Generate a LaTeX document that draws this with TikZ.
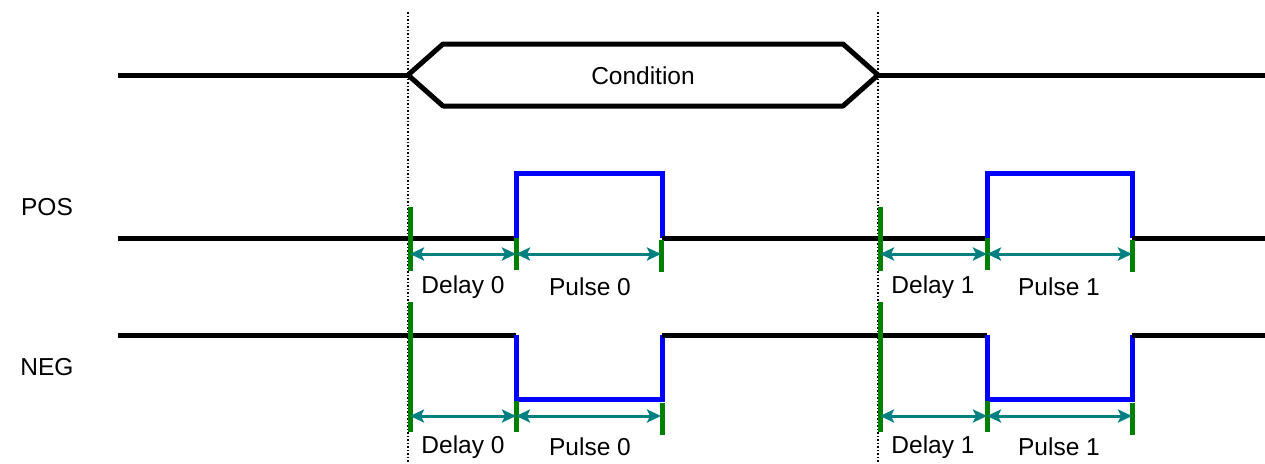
\documentclass[tikz,border=0pt]{standalone}
\usepackage{fontspec}
\setmainfont{Liberation Sans}
\usetikzlibrary{arrows.meta}
\definecolor{tgreen}{RGB}{0,128,0}
\definecolor{tteal}{RGB}{0,128,128}
\begin{document}
\begin{tikzpicture}[x=1pt,y=-1pt,
  sig/.style={line width=5pt, line join=miter},
  hi/.style={line width=5pt, blue, line join=miter},
  gmark/.style={line width=5pt, tgreen},
  span/.style={line width=3pt, tteal, {Stealth[length=14pt,width=13pt,inset=3pt]}-{Stealth[length=14pt,width=13pt,inset=3pt]}},
  lbl/.style={font=\fontsize{24.5}{30}\selectfont, inner sep=0pt},
  guide/.style={line width=1.5pt, dotted}
]
\useasboundingbox (0,0) rectangle (1265,463);
% guides
\draw[guide] (408,12) -- (408,463);
\draw[guide] (878,12) -- (878,463);
% condition
\draw[sig] (118,75) -- (408,75);
\draw[sig, line join=round] (408,75) -- (443,44) -- (843,44) -- (878,75) -- (843,106) -- (443,106) -- cycle;
\draw[sig] (878,75) -- (1265,75);
\node[lbl] (cond) at (643,76) {Condition};
% labels
\node[lbl] (pos) at (47,207) {POS};
\node[lbl] (neg) at (47,367) {NEG};
% POS signal
\draw[sig] (118,238) -- (516,238);
\draw[hi] (516,238) -- (516,173.5) -- (662,173.5) -- (662,238);
\draw[sig] (662,238) -- (987,238);
\draw[hi] (987,238) -- (987,173.5) -- (1132,173.5) -- (1132,238);
\draw[sig] (1132,238) -- (1265,238);
% NEG signal
\draw[sig] (118,335) -- (516,335);
\draw[hi] (516,335) -- (516,399) -- (662,399) -- (662,335);
\draw[sig] (662,335) -- (987,335);
\draw[hi] (987,335) -- (987,399) -- (1132,399) -- (1132,335);
\draw[sig] (1132,335) -- (1265,335);
% POS markers
\coordinate (pa) at (410,254); \coordinate (pb) at (516,254); \coordinate (pc) at (661,254);
\coordinate (pd) at (880,254); \coordinate (pe) at (987,254); \coordinate (pf) at (1132,254);
\draw[gmark] (410,207) -- (410,271);
\draw[gmark] (516,238) -- (516,270);
\draw[gmark] (661,240) -- (661,272);
\draw[gmark] (880,207) -- (880,271);
\draw[gmark] (987,238) -- (987,270);
\draw[gmark] (1132,240) -- (1132,272);
\draw[span] (pa) -- (pb);
\draw[span] (pb) -- (pc);
\draw[span] (pd) -- (pe);
\draw[span] (pe) -- (pf);
\node[lbl] (pd0) at (463,287) {Delay 0};
\node[lbl] (pp0) at (590,287) {Pulse 0};
\node[lbl] (pd1) at (933,287) {Delay 1};
\node[lbl] (pp1) at (1059,287) {Pulse 1};
% NEG markers
\coordinate (na) at (410,416); \coordinate (nb) at (516,416); \coordinate (nc) at (661,416);
\coordinate (nd) at (880,416); \coordinate (ne) at (987,416); \coordinate (nf) at (1132,416);
\draw[gmark] (410,302) -- (410,432);
\draw[gmark] (516,401) -- (516,432);
\draw[gmark] (662,403) -- (662,435);
\draw[gmark] (880,302) -- (880,432);
\draw[gmark] (987,401) -- (987,432);
\draw[gmark] (1132,403) -- (1132,435);
\draw[span] (na) -- (nb);
\draw[span] (nb) -- (nc);
\draw[span] (nd) -- (ne);
\draw[span] (ne) -- (nf);
\node[lbl] (nd0) at (463,447) {Delay 0};
\node[lbl] (np0) at (590,447) {Pulse 0};
\node[lbl] (nd1) at (933,447) {Delay 1};
\node[lbl] (np1) at (1059,447) {Pulse 1};
\end{tikzpicture}
\end{document}
